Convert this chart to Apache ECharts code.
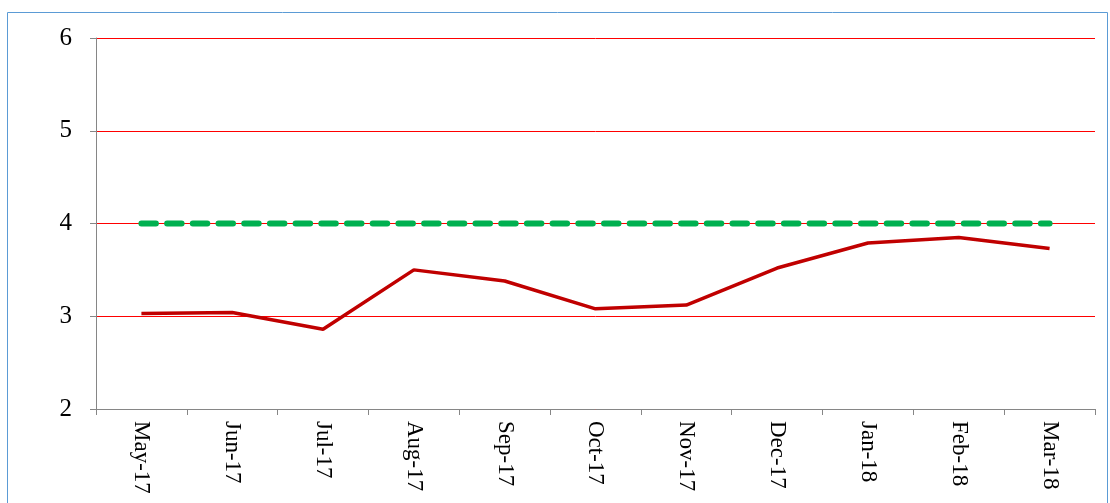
<!DOCTYPE html>
<html><head><meta charset="utf-8">
<script src="https://cdn.jsdelivr.net/npm/echarts@6/dist/echarts.min.js"></script>
<style>html,body{margin:0;padding:0;background:#fff}#c{width:1110px;height:503px}</style>
</head><body><div id="c"></div>
<script>
const categories = ['May-17','Jun-17','Jul-17','Aug-17','Sep-17','Oct-17','Nov-17','Dec-17','Jan-18','Feb-18','Mar-18'];
const actual = [3.03, 3.04, 2.86, 3.50, 3.38, 3.08, 3.12, 3.52, 3.79, 3.85, 3.73];
const target = [4, 4, 4, 4, 4, 4, 4, 4, 4, 4, 4];
const chart = echarts.init(document.getElementById('c'));
chart.setOption({
  animation: false,
  graphic: [{type:'rect', shape:{x:7.5,y:12.5,width:1100,height:500}, style:{fill:'none', stroke:'#5B9BD5', lineWidth:1}}],
  grid: {left:96, right:15, top:38, bottom:94, containLabel:false},
  xAxis: {
    type:'category', data:categories, boundaryGap:true,
    axisLine:{lineStyle:{color:'#868686', width:1}},
    axisTick:{show:true, length:6, lineStyle:{color:'#868686'}},
    axisLabel:{rotate:-90, color:'#000', fontFamily:'Liberation Serif', fontSize:23, margin:12, interval:0}
  },
  yAxis: {
    type:'value', min:2, max:6, interval:1,
    axisLine:{show:true, lineStyle:{color:'#868686', width:1}},
    axisTick:{show:true, length:6, lineStyle:{color:'#868686'}},
    axisLabel:{color:'#000', fontFamily:'Liberation Serif', fontSize:25, margin:24},
    splitLine:{show:true, lineStyle:{color:'#FF0000', width:1}}
  },
  series: [
    {type:'line', data:target, symbol:'none', z:3,
     lineStyle:{color:'#00B050', width:6, type:[14.5,11.2], cap:'round'}},
    {type:'line', data:actual, symbol:'none', z:4,
     lineStyle:{color:'#C00000', width:3.5}}
  ]
});
</script></body></html>
